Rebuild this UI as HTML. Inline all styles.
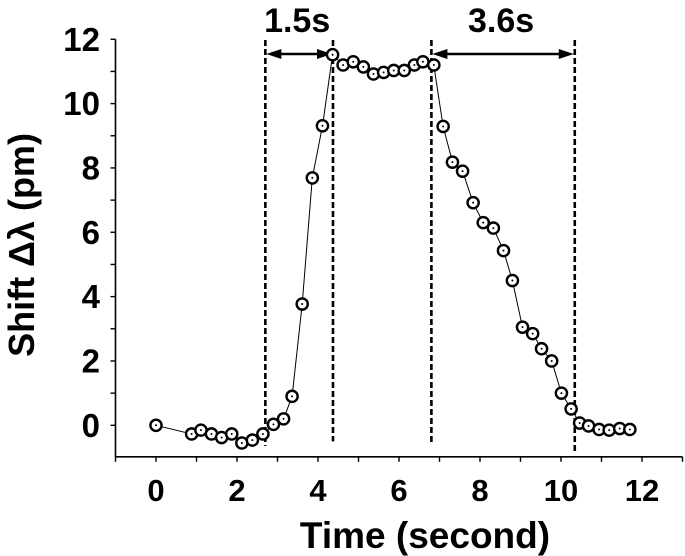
<!DOCTYPE html>
<html><head><meta charset="utf-8"><style>
html,body{margin:0;padding:0;background:#fff;}
svg{display:block;font-family:"Liberation Sans",Arial,sans-serif;font-weight:bold;}
</style></head><body>
<svg id="chart" width="685" height="556" viewBox="0 0 685 556">
<g id="axes"></g>
<g id="annot"></g>
<g id="series"></g>
<text x="425" y="548" font-size="37" text-anchor="middle">Time (second)</text>
<text transform="translate(34,245) rotate(-90)" font-size="36" text-anchor="middle">Shift Δλ (pm)</text>
</svg>
<script>
const xTicks = [0, 2, 4, 6, 8, 10, 12];
const yTicks = [0, 2, 4, 6, 8, 10, 12];
const timeValues = [0,0.88,1.11,1.37,1.62,1.87,2.12,2.38,2.64,2.90,3.15,3.36,3.61,3.86,4.11,4.36,4.62,4.87,5.12,5.37,5.62,5.87,6.13,6.38,6.59,6.86,7.09,7.32,7.57,7.83,8.08,8.33,8.58,8.80,9.05,9.30,9.52,9.77,10.01,10.25,10.46,10.68,10.94,11.19,11.45,11.70];
const shiftValues = [0,-0.27,-0.15,-0.27,-0.38,-0.27,-0.55,-0.46,-0.27,0.03,0.2,0.9,3.77,7.69,9.31,11.52,11.2,11.3,11.14,10.92,10.97,11.03,11.03,11.2,11.3,11.2,9.29,8.18,7.9,6.92,6.3,6.13,5.43,4.5,3.05,2.85,2.38,2.0,1.0,0.51,0.07,-0.02,-0.13,-0.15,-0.1,-0.13];
const markerTimes = [2.70, 4.37, 6.80, 10.34];
const markerBottoms = [-0.64, -0.5, -0.55, -0.8];
const spanLabels = ["1.5s", "3.6s"];

const NS = "http://www.w3.org/2000/svg";
function X(v){ return 156 + 40.5 * v; }
function Y(v){ return 425.3 - 32.17 * v; }
function mk(tag, attrs, parent){
  const e = document.createElementNS(NS, tag);
  for (const k in attrs) e.setAttribute(k, attrs[k]);
  parent.appendChild(e);
  return e;
}
const axes = document.getElementById('axes');
const annot = document.getElementById('annot');
const series = document.getElementById('series');
const YB = -0.98;

let el = mk('line', {x1: X(-1), y1: Y(YB), x2: X(13), y2: Y(YB), stroke:'#000','stroke-width':1.6}, axes);


el = mk('line', {x1: X(-1), y1: Y(YB), x2: X(-1), y2: Y(12), stroke:'#000','stroke-width':1.6}, axes);



for (let v = -1; v <= 13; v++) {
  el = mk('line', {x1: X(v), y1: Y(YB), x2: X(v), y2: Y(YB) + 5, stroke:'#000','stroke-width':1.4}, axes);
  
  
}
for (let v = 0; v <= 12; v++) {
  el = mk('line', {x1: X(-1), y1: Y(v), x2: X(-1) - 5, y2: Y(v), stroke:'#000','stroke-width':1.4}, axes);
  
  
}
xTicks.forEach(v => {
  el = mk('text', {x: X(v), y: 501, 'font-size': 31, 'text-anchor':'middle'}, axes);
  el.textContent = v;
  
  
});
yTicks.forEach(v => {
  el = mk('text', {x: 100, y: Y(v) + 11.5, 'font-size': 33, 'text-anchor':'end'}, axes);
  el.textContent = v;
  
  
});

markerTimes.forEach((t, i) => {
  el = mk('line', {x1: X(t), y1: 40, x2: X(t), y2: Y(markerBottoms[i]), stroke:'#000','stroke-width':2.6,'stroke-dasharray':'6,3'}, annot);
  
  
});
[[0,1],[2,3]].forEach((p, i) => {
  const x1 = X(markerTimes[p[0]]), x2 = X(markerTimes[p[1]]), y = 54;
  el = mk('line', {x1: x1 + 10, y1: y, x2: x2 - 10, y2: y, stroke:'#000','stroke-width':2.5}, annot);
  
  
  mk('polygon', {points: `${x1+1},${y} ${x1+16},${y-5} ${x1+16},${y+5}`, fill:'#000'}, annot);
  mk('polygon', {points: `${x2-1},${y} ${x2-16},${y-5} ${x2-16},${y+5}`, fill:'#000'}, annot);
  el = mk('text', {x: (x1 + x2) / 2 - 2, y: 32, 'font-size': 34, 'text-anchor':'middle'}, annot);
  el.textContent = spanLabels[i];
  
  
});

const pts = timeValues.map((t, i) => X(t).toFixed(1) + ',' + Y(shiftValues[i]).toFixed(1)).join(' ');
el = mk('polyline', {points: pts, fill:'none', stroke:'#000','stroke-width':1}, series);


timeValues.forEach((t, i) => {
  el = mk('circle', {cx: X(t), cy: Y(shiftValues[i]), r: 5.6, fill:'#fff', stroke:'#000','stroke-width':2.4}, series);
  
  
  mk('circle', {cx: X(t), cy: Y(shiftValues[i]), r: 1, fill:'#000'}, series);
});
</script>
</body></html>
